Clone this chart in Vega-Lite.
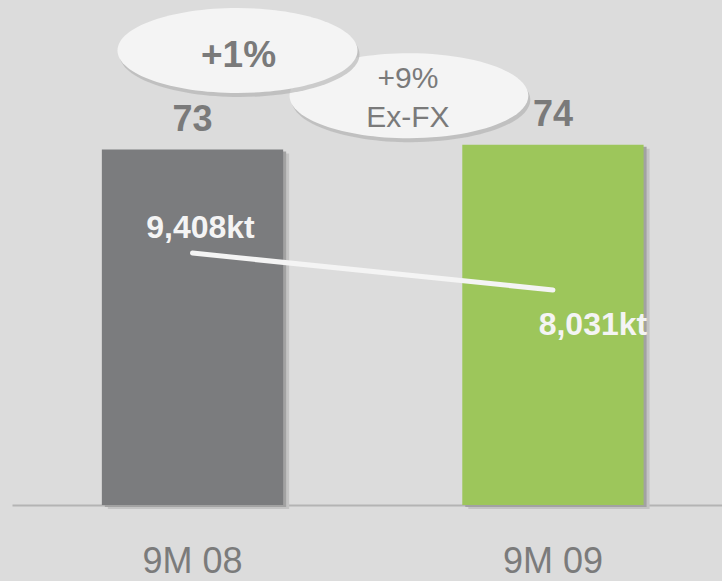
{
  "$schema": "https://vega.github.io/schema/vega-lite/v6.json",
  "width": 710,
  "height": 505,
  "autosize": {"type": "none"},
  "padding": {"left": 12, "top": 0, "right": 0, "bottom": 76},
  "background": "#dcdcdc",
  "config": {"view": {"stroke": null}, "font": "Liberation Sans"},
  "data": {
    "values": [
      {"period": "9M 08", "index": 73, "volume": 9408, "volLabel": "9,408kt"},
      {"period": "9M 09", "index": 74, "volume": 8031, "volLabel": "8,031kt"}
    ]
  },
  "encoding": {
    "x": {
      "field": "period",
      "type": "nominal",
      "sort": null,
      "scale": {"type": "band", "paddingInner": 0.497, "paddingOuter": 0.2334, "align": 0.534},
      "axis": {
        "title": null,
        "labelAngle": 0,
        "labelFontSize": 36,
        "labelColor": "#7b7b7b",
        "labelFont": "Liberation Sans",
        "ticks": false,
        "labelPadding": 39,
        "domainColor": "#b4b4b4",
        "domainWidth": 2,
        "grid": false
      }
    }
  },
  "layer": [
    {
      "encoding": {
        "y": {"field": "index", "type": "quantitative", "scale": {"domain": [0, 103.7], "nice": false, "zero": false}, "axis": null}
      },
      "layer": [
        {"mark": {"type": "bar", "xOffset": 6, "yOffset": 4, "fill": "#c4c4c4"}},
        {"mark": {"type": "bar", "xOffset": 3, "yOffset": 2, "fill": "#a2a2a2"}},
        {
          "mark": {"type": "bar"},
          "encoding": {
            "color": {"field": "period", "type": "nominal", "scale": {"domain": ["9M 08", "9M 09"], "range": ["#7b7c7e", "#9dc65b"]}, "legend": null}
          }
        },
        {
          "mark": {"type": "text", "fontSize": 36, "fontWeight": "bold", "color": "#7a7a7a", "align": "center", "baseline": "alphabetic", "dy": -19},
          "encoding": {"text": {"field": "index", "type": "quantitative"}}
        },
        {
          "transform": [{"filter": "datum.period === '9M 09'"}],
          "mark": {"type": "point", "shape": "M -1 0 A 1 0.356 0 1 1 1 0 A 1 0.356 0 1 1 -1 0 Z", "size": 57000, "filled": true, "fill": "#a9a9a9", "opacity": 0.55, "strokeWidth": 0, "xOffset": -142, "yOffset": -45}
        },
        {
          "transform": [{"filter": "datum.period === '9M 09'"}],
          "mark": {"type": "point", "shape": "M -1 0 A 1 0.356 0 1 1 1 0 A 1 0.356 0 1 1 -1 0 Z", "size": 57000, "filled": true, "fill": "#f4f4f4", "opacity": 1, "strokeWidth": 0, "xOffset": -144, "yOffset": -49}
        },
        {
          "transform": [{"filter": "datum.period === '9M 08'"}],
          "mark": {"type": "point", "shape": "M -1 0 A 1 0.354 0 1 1 1 0 A 1 0.354 0 1 1 -1 0 Z", "size": 57600, "filled": true, "fill": "#a9a9a9", "opacity": 0.55, "strokeWidth": 0, "xOffset": 47, "yOffset": -95}
        },
        {
          "transform": [{"filter": "datum.period === '9M 08'"}],
          "mark": {"type": "point", "shape": "M -1 0 A 1 0.354 0 1 1 1 0 A 1 0.354 0 1 1 -1 0 Z", "size": 57600, "filled": true, "fill": "#f4f4f4", "opacity": 1, "strokeWidth": 0, "xOffset": 45, "yOffset": -99}
        },
        {
          "transform": [{"filter": "datum.period === '9M 08'"}],
          "mark": {"type": "text", "fontSize": 37, "fontWeight": "bold", "color": "#7a7a7a", "align": "center", "baseline": "alphabetic", "dx": 46, "dy": -82.5},
          "encoding": {"text": {"value": "+1%"}}
        },
        {
          "transform": [{"filter": "datum.period === '9M 09'"}],
          "mark": {"type": "text", "fontSize": 30, "color": "#7a7a7a", "align": "center", "baseline": "alphabetic", "lineHeight": 39, "dx": -145, "dy": -56.5},
          "encoding": {"text": {"value": ["+9%", "Ex-FX"]}}
        }
      ]
    },
    {
      "encoding": {
        "y": {"field": "volume", "type": "quantitative", "scale": {"domain": [0, 18860], "nice": false, "zero": false}, "axis": null}
      },
      "layer": [
        {"mark": {"type": "line", "color": "#f4f4f4", "strokeWidth": 5, "strokeCap": "round"}},
        {
          "transform": [{"filter": "datum.period === '9M 08'"}],
          "mark": {"type": "text", "fontSize": 32, "fontWeight": "bold", "color": "#f4f4f4", "align": "center", "baseline": "alphabetic", "dx": 8, "dy": -15},
          "encoding": {"text": {"field": "volLabel", "type": "nominal"}}
        },
        {
          "transform": [{"filter": "datum.period === '9M 09'"}],
          "mark": {"type": "text", "fontSize": 32, "fontWeight": "bold", "color": "#f4f4f4", "align": "center", "baseline": "alphabetic", "dx": 40, "dy": 45},
          "encoding": {"text": {"field": "volLabel", "type": "nominal"}}
        }
      ]
    }
  ],
  "resolve": {"scale": {"y": "independent"}}
}
